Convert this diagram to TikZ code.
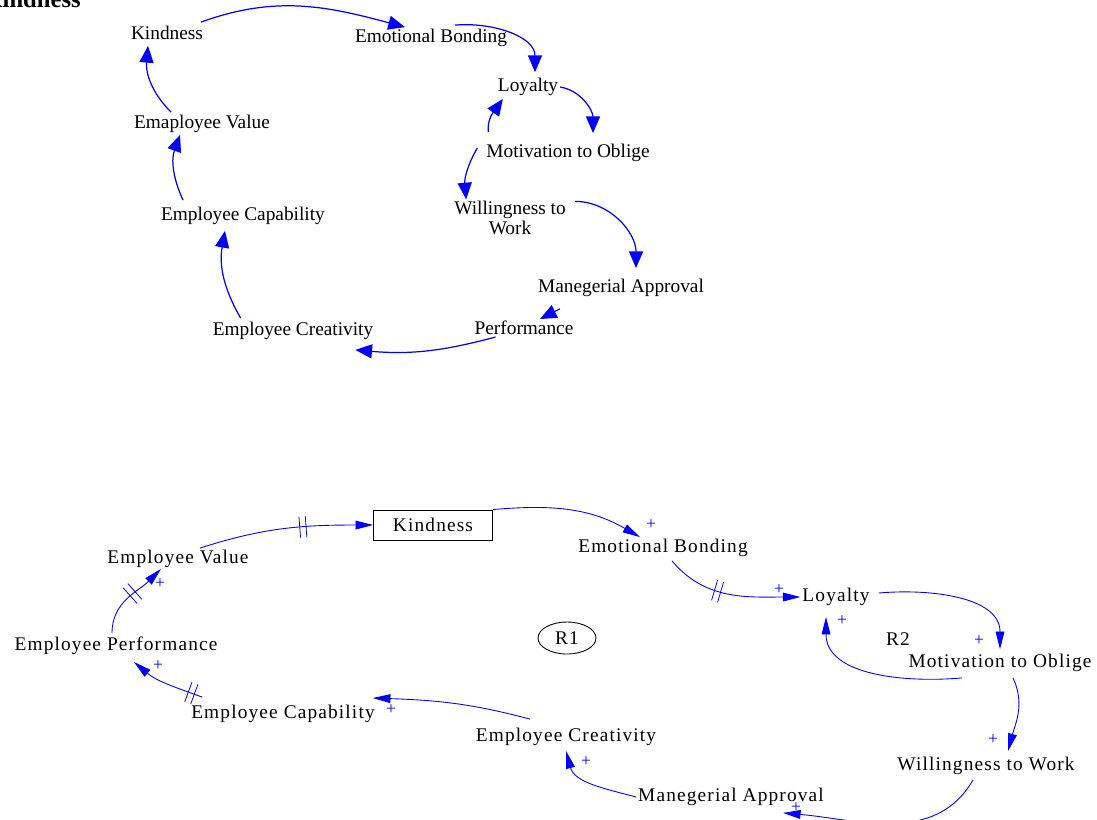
\documentclass[tikz,border=0pt]{standalone}
\usepackage{fontspec}
\setmainfont{Liberation Serif}
\newfontfamily\botfont[LetterSpace=6]{Liberation Serif}
\usetikzlibrary{arrows.meta,shapes.geometric,decorations.markings}
\tikzset{
  var/.style={font=\fontsize{11}{13}\selectfont, inner sep=1pt},
  bvar/.style={font=\botfont\fontsize{11}{13}\selectfont, inner sep=1pt},
  link/.style={blue, line width=0.7pt, -{Triangle[length=9.5pt,width=8pt]}},
  blink/.style={blue, line width=0.5pt, -{Triangle[length=10pt,width=5pt]}},
  pol/.style={blue, font=\fontsize{10}{12}\selectfont, inner sep=0pt},
  delaymark/.style={postaction={decorate}, decoration={markings,
    mark=at position #1 with {\draw[blue, line width=0.45pt, -] (-1.8pt,-6pt) -- (-1.8pt,6pt) (1.8pt,-6pt) -- (1.8pt,6pt);}}}
}
\begin{document}
\begin{tikzpicture}[x={(0.02cm,0cm)}, y={(0cm,-0.02cm)}]
\useasboundingbox (0,0) rectangle (1097,819);
% first loop
\node[font=\bfseries\fontsize{14}{16}\selectfont, anchor=base east, inner sep=0pt] (ttl) at (81,7) {Kindness};
\node[var] (k) at (167,33) {Kindness};
\node[var] (eb) at (431,38) {Emotional Bonding};
\node[var] (l) at (528,87) {Loyalty};
\node[var] (mo) at (568,153) {Motivation to Oblige};
\node[var, align=center, font=\fontsize{11}{11}\selectfont] (w) at (510,218) {Willingness to\\Work};
\node[var] (ma) at (621,288) {Manegerial Approval};
\node[var] (p) at (524,328) {Performance};
\node[var] (ec) at (293,331) {Employee Creativity};
\node[var] (cap) at (243,216) {Employee Capability};
\node[var] (ev) at (202,124) {Emaployee Value};
\draw[link] ([shift={(-4,-2)}]k.north east) to[out=20,in=165] ([shift={(-26,0)}]eb.north);
\draw[link] ([shift={(24,-2)}]eb.north) to[out=5,in=90] ([shift={(7,-4)}]l.north);
\draw[link] (l.east) to[out=-10,in=90] ([shift={(25,-9)}]mo.north);
\draw[link] ([shift={(4,-10)}]mo.north west) to[out=95,in=235] ([shift={(7,1)}]l.south west);
\draw[link] ([shift={(-7,-5)}]mo.west) to[out=240,in=95] ([shift={(14,0)}]w.north west);
\draw[link] ([shift={(7,2)}]w.north east) to[out=0,in=90] ([shift={(15,-9)}]ma.north);
\draw[link] ([shift={(24,10)}]ma.south west) -- ([shift={(16,0)}]p.north);
\draw[link] ([shift={(23,0)}]p.south west) to[out=195,in=-5] ([shift={(-20,8)}]ec.south east);
\draw[link] ([shift={(30,-2)}]ec.north west) to[out=120,in=260] ([shift={(-18,4)}]cap.south);
\draw[link] ([shift={(24,-5)}]cap.north west) to[out=115,in=250] ([shift={(-22,0)}]ev.south);
\draw[link] ([shift={(39,-1)}]ev.north west) to[out=135,in=265] ([shift={(-19,4)}]k.south);
% second loop
\node[bvar, draw=black, line width=0.5pt, minimum width=2.38cm, minimum height=0.6cm] (kb) at (433,525) {Kindness};
\node[bvar] (ebb) at (663,548) {Emotional Bonding};
\node[bvar] (lb) at (836,597) {Loyalty};
\node[bvar] (mob) at (1000,663) {Motivation to Oblige};
\node[bvar] (wb) at (986,766) {Willingness to Work};
\node[bvar] (mab) at (731,797) {Manegerial Approval};
\node[bvar] (ecb) at (566,737) {Employee Creativity};
\node[bvar] (capb) at (283,714) {Employee Capability};
\node[bvar] (epb) at (116,646) {Employee Performance};
\node[bvar] (evb) at (178,559) {Employee Value};
\node[bvar, ellipse, draw=black, line width=0.5pt, minimum width=1.16cm, minimum height=0.64cm, inner sep=0pt] (r1) at (567,638) {R1};
\node[bvar] (r2) at (898,639) {R2};
\draw[blink, delaymark=0.6] ([shift={(22,0)}]evb.north) to[out=18,in=180] (kb.west);
\draw[blink] (kb.north east) to[out=5,in=150] ([shift={(-23,0)}]ebb.north);
\draw[blink, delaymark=0.4] ([shift={(9,2)}]ebb.south) to[out=-50,in=180] (lb.west);
\draw[blink] ([shift={(7,-4)}]lb.east) to[out=5,in=90] ([shift={(0,-3)}]mob.north);
\draw[blink] ([shift={(-38,4)}]mob.south) to[out=185,in=270] ([shift={(-10,9)}]lb.south);
\draw[blink] ([shift={(13,4)}]mob.south) to[out=-65,in=75] ([shift={(22,-4)}]wb.north);
\draw[blink] ([shift={(-13,3)}]wb.south) to[out=-120,in=-5] ([shift={(52,5)}]mab.south);
\draw[blink] (mab.west) to[out=165,in=-75] ([shift={(0,3)}]ecb.south);
\draw[blink] ([shift={(-36,-7)}]ecb.north) to[out=165,in=-2] ([shift={(-4,-16)}]capb.east);
\draw[blink, delaymark=0.15] ([shift={(13,-6)}]capb.north west) to[out=160,in=-40] ([shift={(18,5)}]epb.south);
\draw[blink, delaymark=0.55] ([shift={(-4,-2)}]epb.north) to[out=90,in=225] ([shift={(-17,-1)}]evb.south);
\node[pol] (s1) at (651,525) {+};
\node[pol] (s2) at (779,590) {+};
\node[pol] (s3) at (979,641) {+};
\node[pol] (s4) at (842,621) {+};
\node[pol] (s5) at (993,740) {+};
\node[pol] (s6) at (796,808) {+};
\node[pol] (s7) at (586,762) {+};
\node[pol] (s8) at (391,710) {+};
\node[pol] (s9) at (158,666) {+};
\node[pol] (s10) at (160,584) {+};
\end{tikzpicture}
\end{document}
